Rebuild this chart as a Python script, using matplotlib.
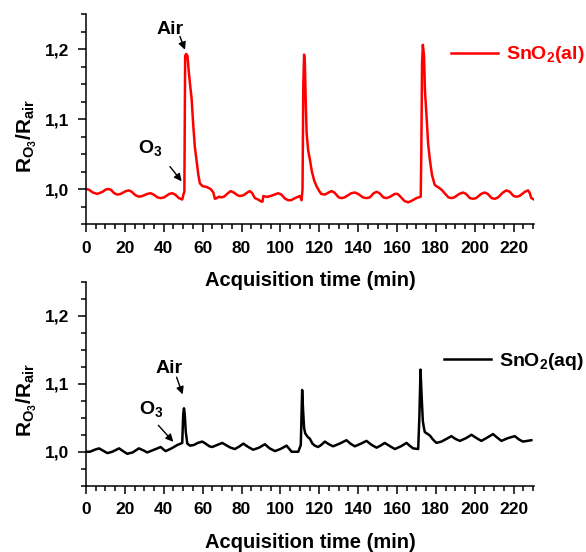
"""Sensor response R_O3/R_air of two SnO2 films over three ozone/air cycles."""

from __future__ import annotations

import matplotlib

matplotlib.use("Agg")
import matplotlib.pyplot as plt
from matplotlib.ticker import FuncFormatter, MultipleLocator


# SnO2(al): time (min) and response
al_time = [
    0, 1.5, 3.5, 5.8, 8.5, 10, 11.3, 12.8, 14.5, 16.1, 17.8, 20.5, 22.1, 23.5,
    25.5, 27.2, 29, 31.5, 33.2, 34.8, 36.8, 38.4, 40.2, 42.8, 44.4, 45.9, 47.8,
    49.5, 50.3, 50.6, 51.0, 51.5, 52.2, 52.8, 53.5, 54.3, 55.2, 56.0, 56.9,
    57.8, 58.6, 60, 62, 64.1, 65.5, 66.3, 67.2, 68.4, 69.5, 71, 73, 74.4, 76,
    78, 79.2, 81, 83, 84.3, 85.5, 86.9, 88.5, 90.3, 90.8, 91.2, 92.5, 93.7, 96,
    98.9, 100.5, 102.5, 104, 105.5, 107.5, 110, 110.9, 111.4, 111.8, 112.2,
    112.6, 113.0, 113.5, 114.3, 115.2, 116.2, 117.4, 118.6, 120, 121, 122.9,
    124.8, 126.3, 127.8, 130, 131.5, 133, 136.5, 138.3, 140, 142.5, 144.3, 146,
    148, 149.5, 151, 153, 154.6, 156.5, 158.8, 160.3, 161.8, 163.8, 165.7,
    167.5, 170, 172.2, 172.5, 172.9, 173.3, 173.9, 174.4, 175.2, 176, 176.9,
    178, 179.4, 180.3, 181.5, 182.9, 184.5, 186.5, 188, 189.5, 192, 194, 195.5,
    197.5, 199.1, 200.7, 203.3, 205.1, 206.7, 208.7, 210.3, 212, 214.5, 216.3,
    218, 220, 221.4, 223, 225.8, 227.4, 228.2, 229.1, 230.5,
]
al_resp = [
    1.000, 0.999, 0.995, 0.993, 0.996, 0.999, 1.000, 0.999, 0.994, 0.992,
    0.993, 0.997, 0.998, 0.996, 0.991, 0.989, 0.990, 0.993, 0.994, 0.992,
    0.988, 0.987, 0.988, 0.993, 0.994, 0.992, 0.987, 0.985, 0.994, 0.996,
    1.190, 1.193, 1.190, 1.170, 1.150, 1.130, 1.090, 1.060, 1.040, 1.020,
    1.008, 1.004, 1.003, 1.000, 0.995, 0.986, 0.987, 0.989, 0.988, 0.989,
    0.994, 0.997, 0.995, 0.991, 0.990, 0.991, 0.995, 0.997, 0.994, 0.987,
    0.985, 0.982, 0.982, 0.990, 0.989, 0.989, 0.991, 0.994, 0.992, 0.986,
    0.984, 0.984, 0.987, 0.990, 0.984, 1.000, 1.150, 1.192, 1.180, 1.130,
    1.080, 1.055, 1.042, 1.025, 1.012, 1.004, 0.997, 0.993, 0.992, 0.995,
    0.997, 0.995, 0.988, 0.987, 0.988, 0.994, 0.995, 0.993, 0.988, 0.987,
    0.988, 0.994, 0.996, 0.994, 0.988, 0.987, 0.989, 0.993, 0.993, 0.989,
    0.983, 0.981, 0.983, 0.987, 0.989, 1.050, 1.180, 1.206, 1.190, 1.140,
    1.104, 1.065, 1.042, 1.020, 1.006, 1.004, 1.002, 0.999, 0.994, 0.988,
    0.987, 0.988, 0.993, 0.995, 0.993, 0.987, 0.986, 0.987, 0.993, 0.995,
    0.993, 0.987, 0.986, 0.988, 0.995, 0.998, 0.996, 0.990, 0.989, 0.990,
    0.996, 0.998, 0.995, 0.987, 0.985,
]

# SnO2(aq): lower panel
aq_time = [
    0, 2, 4.5, 6.7, 8.5, 11, 13.5, 17, 19, 21.2, 24, 27.2, 29.5, 31.5, 35, 38.4,
    40, 41, 44, 47, 48.7, 49.5, 50.0, 50.4, 50.8, 51.3, 52.1, 53.5, 55.5, 57.5,
    59.8, 61.5, 63.5, 64.9, 67.5, 70.1, 72.5, 74.4, 76.6, 79, 80.9, 83.5, 86,
    89, 92, 94.5, 97.2, 100, 103.2, 105.8, 109.2, 110.5, 111.2, 111.7, 112.2,
    112.8, 114, 115.2, 116.5, 117.7, 119.4, 121, 122.9, 125, 127.1, 130.5, 134,
    136, 138.3, 141.5, 144.3, 147, 149.5, 151.5, 153.7, 156.5, 158.9, 162,
    164.9, 166.5, 168.3, 170.9, 171.5, 172.1, 172.7, 173.3, 173.8, 174.3,
    176.9, 178.5, 180.3, 182.9, 185.5, 188, 190, 192.3, 195.5, 198.3, 201,
    203.4, 206.5, 209.4, 211.5, 213.7, 217, 220.6, 222.8, 224.8, 227, 229.1,
]
aq_resp = [
    1.000, 1.000, 1.003, 1.005, 1.002, 0.998, 1.000, 1.005, 1.001, 0.997,
    0.999, 1.005, 1.002, 0.999, 1.003, 1.007, 1.003, 1.001, 1.005, 1.010,
    1.012, 1.013, 1.055, 1.064, 1.055, 1.030, 1.012, 1.009, 1.010, 1.013,
    1.015, 1.012, 1.008, 1.007, 1.010, 1.013, 1.009, 1.006, 1.004, 1.008,
    1.012, 1.007, 1.003, 1.006, 1.011, 1.005, 1.001, 1.004, 1.009, 1.000,
    1.000, 1.010, 1.091, 1.060, 1.035, 1.027, 1.022, 1.019, 1.012, 1.009,
    1.007, 1.010, 1.015, 1.011, 1.008, 1.012, 1.017, 1.012, 1.008, 1.012,
    1.016, 1.010, 1.006, 1.009, 1.013, 1.008, 1.004, 1.008, 1.013, 1.009,
    1.005, 1.004, 1.050, 1.121, 1.080, 1.045, 1.036, 1.029, 1.024, 1.018,
    1.013, 1.015, 1.019, 1.023, 1.019, 1.016, 1.020, 1.025, 1.020, 1.016,
    1.021, 1.026, 1.021, 1.016, 1.020, 1.023, 1.018, 1.015, 1.016, 1.017,
]

FONT = "Liberation Sans"
plt.rcParams.update({
    "font.family": FONT,
    "font.weight": "bold",
    "mathtext.fontset": "custom",
    "mathtext.rm": f"{FONT}:bold",
    "mathtext.bf": f"{FONT}:bold",
    "mathtext.it": f"{FONT}:bold",
    "mathtext.default": "bf",
})


def comma(v, _pos):
    return f"{v:.1f}".replace(".", ",")


def style_axes(ax):
    ax.patch.set_visible(False)
    for side in ("top", "right"):
        ax.spines[side].set_visible(False)
    for side in ("left", "bottom"):
        ax.spines[side].set_linewidth(1.1)
    ax.set_xlim(0, 230.5)
    ax.set_ylim(0.95, 1.25)
    ax.xaxis.set_major_locator(MultipleLocator(20))
    ax.xaxis.set_minor_locator(MultipleLocator(5))
    ax.set_yticks([1.0, 1.1, 1.2])
    ax.yaxis.set_minor_locator(MultipleLocator(0.025))
    ax.yaxis.set_major_formatter(FuncFormatter(comma))
    ax.tick_params(which="major", length=6, width=1.1, labelsize=12.5, pad=6)
    ax.tick_params(which="minor", length=3.5, width=1.1)
    ax.set_xlabel("Acquisition time (min)", fontsize=14.5, fontweight="bold", labelpad=11)
    ax.set_ylabel(r"R$_{O_3}$/R$_{air}$", fontsize=15, fontweight="bold")


def mark(ax, xy, xytext):
    ax.annotate("", xy=xy, xytext=xytext,
                arrowprops=dict(arrowstyle="-|>", color="black", lw=1,
                                mutation_scale=11, shrinkA=0, shrinkB=0))


def main() -> int:
    fig = plt.figure(figsize=(5.86, 5.52), dpi=100)
    ax_top = fig.add_axes([0.1468, 0.5942, 0.7645, 0.3804])
    ax_bot = fig.add_axes([0.1468, 0.1201, 0.7645, 0.3690])

    ax_top.plot(al_time, al_resp, color="#ff0000", lw=1.8, label=r"SnO$_2$(al)",
                solid_joinstyle="round")
    ax_bot.plot(aq_time, aq_resp, color="black", lw=1.8, label=r"SnO$_2$(aq)",
                solid_joinstyle="round")

    for ax in (ax_top, ax_bot):
        style_axes(ax)
        ax.yaxis.set_label_coords(-0.105, 0.42)

    label_kw = dict(fontsize=14, fontweight="bold", ha="center", va="center")
    # arrows: tail near the text, head at the curve
    ax_top.text(43.4, 1.228, "Air", **label_kw)
    mark(ax_top, (50.9, 1.199), (48.3, 1.218))
    ax_top.text(32.9, 1.058, r"O$_3$", **label_kw)
    mark(ax_top, (49.2, 1.011), (43.2, 1.032))

    ax_bot.text(42.9, 1.123, "Air", **label_kw)
    mark(ax_bot, (49.7, 1.0845), (46.6, 1.1098))
    ax_bot.text(33.4, 1.063, r"O$_3$", **label_kw)
    mark(ax_bot, (44.9, 1.0146), (37.2, 1.039))

    leg_kw = dict(loc="center left", frameon=False, handlelength=2.4,
                  handletextpad=0.4, borderpad=0, borderaxespad=0,
                  labelcolor="linecolor", prop={"size": 14, "weight": "bold"})
    ax_top.legend(bbox_to_anchor=(0.815, 0.805), **leg_kw)
    ax_bot.legend(bbox_to_anchor=(0.800, 0.612), **leg_kw)

    fig.savefig("out.png", dpi=100)
    plt.close(fig)
    return 0


if __name__ == "__main__":
    raise SystemExit(main())
